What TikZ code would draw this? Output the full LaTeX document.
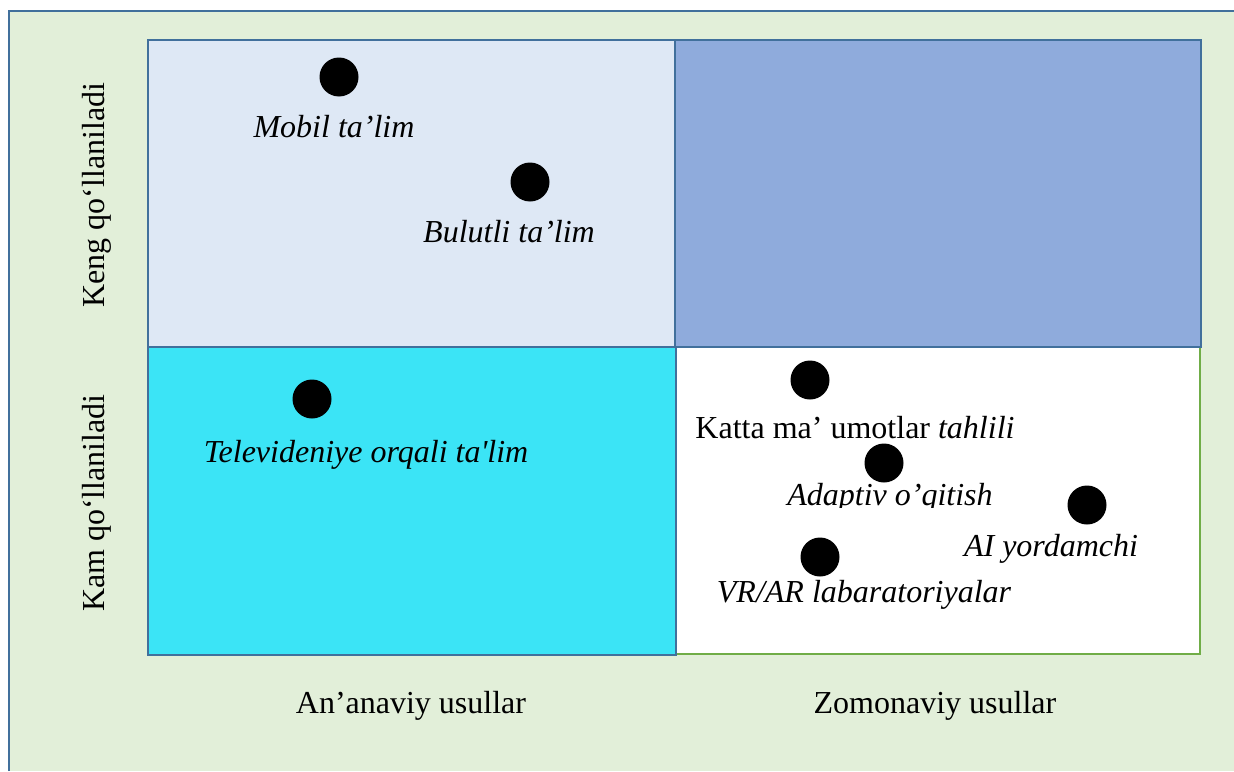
\documentclass[tikz,border=0pt]{standalone}
\usepackage{fontspec}
\setmainfont{Liberation Serif}
\definecolor{framebg}{HTML}{E2EFD9}
\definecolor{frameline}{HTML}{41709C}
\definecolor{paleblue}{HTML}{DEE8F5}
\definecolor{midblue}{HTML}{8FABDC}
\definecolor{cyanfill}{HTML}{3BE4F6}
\definecolor{greenline}{HTML}{70AD47}
\tikzset{
  quad/.style={draw=frameline,line width=2.4pt},
  dot/.style={circle,fill=black,inner sep=0pt,minimum size=39pt},
  lbl/.style={font=\fontsize{32}{38}\selectfont\itshape,inner sep=0pt},
  axis/.style={font=\fontsize{32}{38}\selectfont,inner sep=0pt}
}
\begin{document}
\begin{tikzpicture}[x=1pt,y=-1pt]
	\useasboundingbox (0,0) rectangle (1234,771);
	% frame
	\fill[framebg] (9,11) rectangle (1234,771);
	\draw[frameline,line width=2.5pt] (9,771) -- (9,11) -- (1234,11);

	% quadrants
	\draw[quad,fill=paleblue] (148,40) rectangle (675,347);
	\draw[quad,fill=midblue] (675,40) rectangle (1201,347);
	\draw[quad,fill=cyanfill] (148,347) rectangle (676,655);
	\fill[white] (676,348) rectangle (1199,654);
	\draw[greenline,line width=2.4pt] (1200,348) -- (1200,654) -- (677,654);
	\draw[frameline,line width=2.4pt] (676,347) -- (676,655);

	% axes
	\node[axis,rotate=90] (keng) at (97,195) {Keng qo‘llaniladi};
	\node[axis,rotate=90] (kam) at (97,503) {Kam qo‘llaniladi};
	\node[axis] (ananaviy) at (411,706) {An’anaviy usullar};
	\node[axis] (zamonaviy) at (935,706) {Zomonaviy usullar};

	% points
	\node[dot] (mobil) at (339,77) {};
	\node[lbl] (mobiltxt) at (334,127) {Mobil ta’lim};
	\node[dot] (bulut) at (530,182) {};
	\node[lbl] (buluttxt) at (509,232) {Bulutli ta’lim};
	\node[dot] (tv) at (312,399) {};
	\node[lbl] (tvtxt) at (366,455) {Televideniye orqali ta\textquotesingle lim};
	\node[dot] (katta) at (810,380) {};
	\node[lbl] (kattatxt) at (855,428) {\upshape Katta ma’ umotlar \itshape tahlili};
	\node[dot] (adaptiv) at (884,463) {};
	\begin{scope}
		\clip (770,470) rectangle (1010,507);
		\node[lbl] (adaptivtxt) at (890,498) {Adaptiv o’qitish};
	\end{scope}
	\node[dot] (ai) at (1087,505) {};
	\node[lbl] (aitxt) at (1051,549) {AI yordamchi};
	\node[dot] (vrar) at (820,557) {};
	\node[lbl] (vrartxt) at (864,595) {VR/AR labaratoriyalar};
\end{tikzpicture}
\end{document}
